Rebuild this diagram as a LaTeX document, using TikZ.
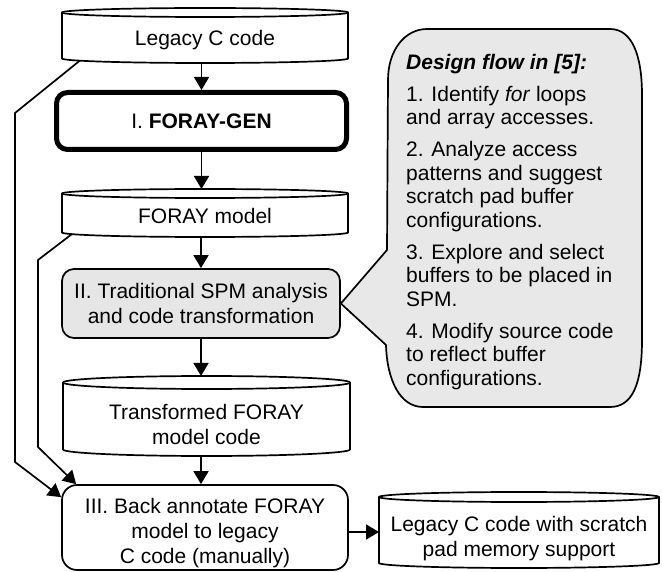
\documentclass[tikz,border=0pt]{standalone}
\usepackage{fontspec}
\setmainfont{Liberation Sans}
\usetikzlibrary{arrows.meta,calc}
\definecolor{boxgray}{HTML}{E6E6E6}
\definecolor{callgray}{HTML}{E8E8E8}
\newcommand\drawcyl[2]{%
  \filldraw[cylline] let \p1=(#1.north west), \p2=(#1.south east), \n1={(\x2-\x1)/2} in
    (\x1,\y1-#2) -- (\x1,\y2+#2)
    arc[start angle=180,end angle=360,x radius=\n1,y radius=#2]
    -- (\x2,\y1-#2)
    arc[start angle=0,end angle=180,x radius=\n1,y radius=#2] -- cycle;
  \draw[cylline] let \p1=(#1.north west), \p2=(#1.south east), \n1={(\x2-\x1)/2} in
    (\x1,\y1-#2) arc[start angle=180,end angle=360,x radius=\n1,y radius=#2];
}
\tikzset{
  every node/.style={font=\fontsize{21}{25}\selectfont},
  cylnode/.style={inner sep=0pt, outer sep=0pt},
  cyltext/.style={inner sep=0pt, align=center},
  cylline/.style={line width=1.7pt, fill=white, draw=black},
  box/.style={draw, line width=1.7pt, rounded corners=12pt, inner sep=0pt, align=center},
  genbox/.style={box, line width=5pt, rounded corners=11pt},
  arr/.style={line width=1.7pt, -{Triangle[length=13pt,width=15pt]}},
  callout/.style={draw, line width=1.7pt, fill=callgray},
}
\begin{document}
\begin{tikzpicture}[x=1pt,y=-1pt]
\useasboundingbox (0,0) rectangle (662,572);

% column nodes
\node[cylnode, minimum width=286pt, minimum height=55pt] (legacy) at (205,35.5) {};
\drawcyl{legacy}{4.5pt}
\node[cyltext] (legacytxt) at (205,40) {Legacy C code};

\node[genbox, minimum width=290pt, minimum height=57pt] (gen) at (201.5,121) {I. \textbf{FORAY-GEN}};

\node[cylnode, minimum width=286pt, minimum height=48pt] (model) at (205,213) {};
\drawcyl{model}{4.5pt}
\node[cyltext] (modeltxt) at (205,215.5) {FORAY model};

\node[box, fill=boxgray, minimum width=278pt, minimum height=69pt] (trad) at (201,303.5)
  {II. Traditional SPM analysis\\and code transformation};

\node[cylnode, minimum width=287pt, minimum height=80pt] (transf) at (206.5,416) {};
\drawcyl{transf}{6.5pt}
\node[cyltext] (transftxt) at (206.5,424) {Transformed FORAY\\model code};

\node[box, rounded corners=15pt, minimum width=286pt, minimum height=85pt] (iii) at (205,527.5) {};
\node[cyltext] (iiitxt) at (205,533) {III. Back annotate FORAY\\model to legacy\\C code (manually)};

\node[cylnode, minimum width=280pt, minimum height=76pt] (out) at (519,530) {};
\drawcyl{out}{5pt}
\node[cyltext] (outtxt) at (519,538.5) {Legacy C code with scratch\\pad memory support};

% main arrows
\draw[arr] (gen.north |- legacy.south) -- (gen.north);
\draw[arr] (gen.south) -- (gen.south |- model.north);
\draw[arr] (trad.north |- model.south) -- (trad.north);
\draw[arr] (trad.south) -- (trad.south |- transf.north);
\draw[arr] (trad.south |- transf.south) -- (trad.south |- iii.north);
\draw[arr] ([yshift=-4.5pt]iii.east) -- ([yshift=-4.5pt]iii.east -| out.west);

% bypass arrows
\coordinate (o1) at (80,60.5);
\coordinate (o2) at (15,113);
\coordinate (o3) at (15,462);
\draw[arr] (o1) -- (o2) -- (o3) -- ([yshift=-13pt]iii.north west);
\coordinate (i1) at (72,234);
\coordinate (i2) at (38,260);
\coordinate (i3) at (38,447);
\draw[arr] (i1) -- (i2) -- (i3) -- ([xshift=15pt]iii.north west);

% callout
\coordinate (tip) at (trad.east);
\draw[callout] (427,29) -- (610,29)
  .. controls (632,29) and (642,55) .. (642,95) -- (642,340)
  .. controls (642,385) and (632,407) .. (610,407) -- (423,407)
  .. controls (400,407) and (387,380) .. (386,345)
  -- (tip) -- (387,250) -- (388,80)
  .. controls (388,50) and (405,29) .. (427,29) -- cycle;
\node[anchor=north west, inner sep=0pt, align=left,
      font=\fontsize{21}{23.5}\selectfont] (flow) at (406,54)
  {\textbf{\textit{Design flow in [5]:}}\\[8.5pt]
   1. Identify \textit{for} loops\\
   and array accesses.\\[8.5pt]
   2. Analyze access\\
   patterns and suggest\\
   scratch pad buffer\\
   configurations.\\[8.5pt]
   3. Explore and select\\
   buffers to be placed in\\
   SPM.\\[8.5pt]
   4. Modify source code\\
   to reflect buffer\\
   configurations.};
\end{tikzpicture}
\end{document}
